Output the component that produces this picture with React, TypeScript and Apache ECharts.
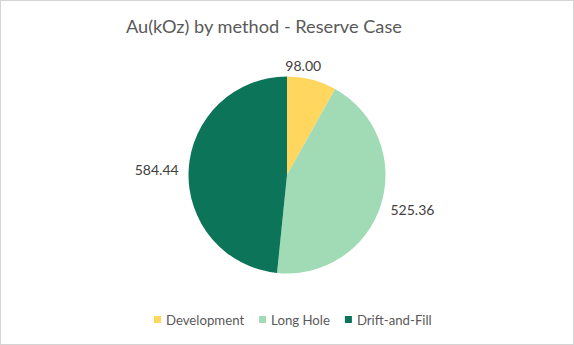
import React, { useEffect, useRef } from "react";
import * as echarts from "echarts";

const categories = ["Development", "Long Hole", "Drift-and-Fill"];
const values = [98.0, 525.36, 584.44];
const colors = ["#FFD75F", "#A0DBB5", "#0B7459"];
const titleText = "Au(kOz) by method - Reserve Case";

export default function App() {
  const ref = useRef<HTMLDivElement>(null);
  useEffect(() => {
    document.body.style.margin = "0";
    const chart = echarts.init(ref.current!, null, { renderer: "svg" });
    const font = "Lato, 'Noto Sans', sans-serif";
    chart.setOption({
      animation: false,
      backgroundColor: "#ffffff",
      title: {
        text: titleText,
        left: 120,
        top: 11,
        textStyle: { fontFamily: font, fontSize: 18.2, fontWeight: "normal", color: "#595959" },
      },
      legend: {
        bottom: 13,
        left: 148,
        icon: "rect",
        itemWidth: 7,
        itemHeight: 7,
        itemGap: 15,
        textStyle: { fontFamily: font, fontSize: 13.2, color: "#595959" },
        data: categories,
      },
      series: [
        {
          type: "pie",
          center: [286, 174],
          radius: 98.5,
          startAngle: 90,
          clockwise: true,
          silent: true,
          data: categories.map((c, i) => ({ name: c, value: values[i], itemStyle: { color: colors[i] } })),
          label: {
            show: true,
            position: "outside",
            formatter: (p: any) => p.value.toFixed(2),
            fontFamily: font,
            fontSize: 14,
            color: "#404040",
            distanceToLabelLine: 0,
          },
          labelLine: { show: false, length: 10, length2: 0 },
          labelLayout: (p: any) =>
            p.dataIndex === 0 ? { dx: -29, dy: -5 } : p.dataIndex === 1 ? { dy: 2 } : {},
        },
      ],
    });
    return () => chart.dispose();
  }, []);
  return (
    <div
      ref={ref}
      style={{ width: 574, height: 345, boxSizing: "border-box", border: "1px solid #d4d4d4" }}
    />
  );
}
